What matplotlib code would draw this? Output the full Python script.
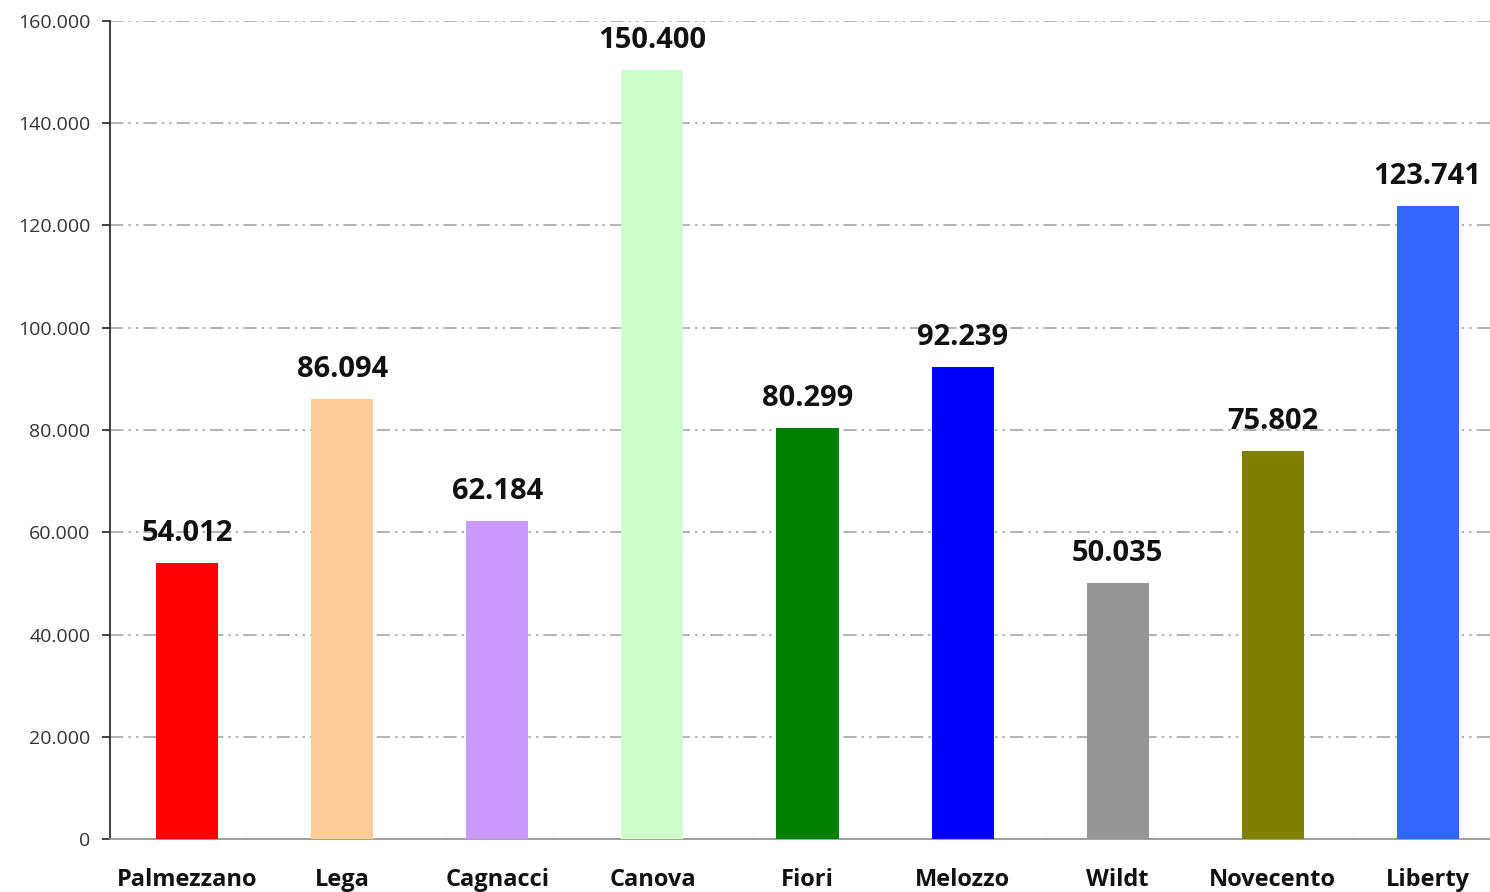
import matplotlib.pyplot as plt
from matplotlib.ticker import FuncFormatter

# -----------------------
# Data
# -----------------------
categories = ["Palmezzano", "Lega", "Cagnacci", "Canova", "Fiori",
              "Melozzo", "Wildt", "Novecento", "Liberty"]
values = [54012, 86094, 62184, 150400, 80299, 92239, 50035, 75802, 123741]
colors = ["#FF0000", "#FFCC99", "#CC99FF", "#CCFFCC", "#008000",
          "#0000FF", "#969696", "#808000", "#3366FF"]
y_ticks = [0, 20000, 40000, 60000, 80000, 100000, 120000, 140000, 160000]


def it_fmt(v):
    # Italian thousands separator
    return f"{int(v):,}".replace(",", ".")


plt.rcParams["font.family"] = ["Open Sans", "DejaVu Sans"]

fig = plt.figure(figsize=(14.9, 8.92), dpi=100)
ax = fig.add_axes([0.0738, 0.0594, 0.9262, 0.9171])

x = list(range(len(categories)))
ax.bar(x, values, width=0.40, color=colors, zorder=3)

for xi, v in zip(x, values):
    ax.annotate(it_fmt(v), (xi, v), xytext=(0, 11), textcoords="offset points",
                ha="center", va="bottom", fontsize=21, fontweight="bold",
                color="#111111")

ax.set_xlim(-0.5, 8.403)
ax.set_ylim(0, 160000)
ax.set_yticks(y_ticks)
ax.yaxis.set_major_formatter(FuncFormatter(lambda v, p: it_fmt(v)))
ax.set_xticks(x)
ax.set_xticklabels(categories, fontsize=17, fontweight="bold", color="#111111")

ax.grid(axis="y", color="#A6A6A6", linewidth=1.2,
        linestyle=(0, (8, 3, 1.5, 3, 1.5, 3)), zorder=0)
ax.set_axisbelow(True)

for side in ["top", "right"]:
    ax.spines[side].set_visible(False)
ax.spines["left"].set_color("#333333")
ax.spines["left"].set_linewidth(1.3)
ax.spines["bottom"].set_color("#999999")
ax.spines["bottom"].set_linewidth(1.3)

ax.tick_params(axis="y", length=6, width=1.3, color="#333333",
               labelsize=14, labelcolor="#333333", pad=8)
ax.tick_params(axis="x", length=0, pad=21)

fig.savefig("out.png", dpi=100)
